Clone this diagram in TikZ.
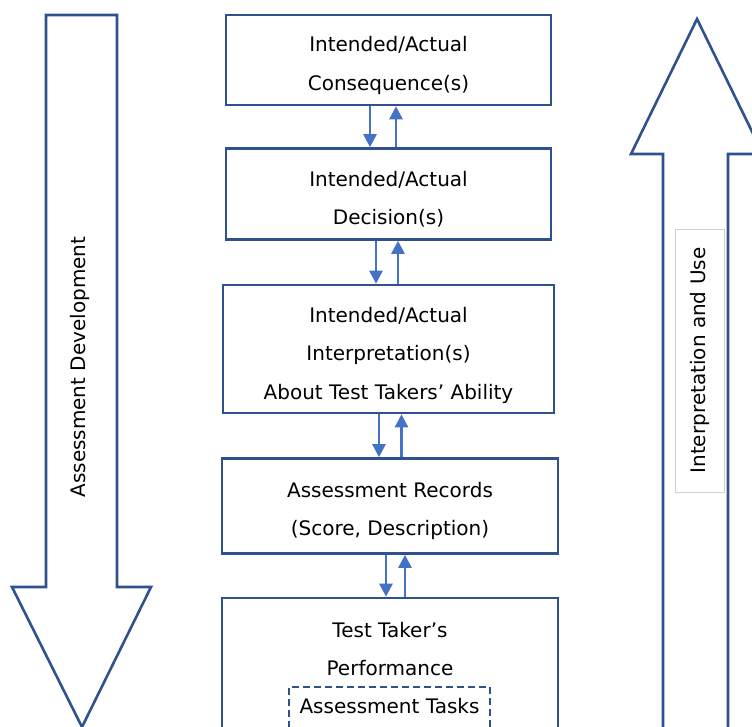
\documentclass[tikz,border=0pt]{standalone}
\usepackage{fontspec}
\setmainfont{DejaVu Sans}
\usetikzlibrary{arrows.meta}
\definecolor{boxblue}{HTML}{2F528F}
\definecolor{arrblue}{HTML}{4472C4}
\definecolor{lightgray}{HTML}{D0D0D0}
\begin{document}
\begin{tikzpicture}[x=1pt,y=-1pt,
  txt/.style={font=\fontsize{20}{38.5}\selectfont, align=center, inner sep=0pt},
  stage/.style={draw=boxblue, line width=2.6pt, fill=white},
  bigarrow/.style={draw=boxblue, line width=2.6pt, fill=white, line join=miter},
  link/.style={draw=arrblue, line width=2.6pt, -{Triangle[width=13pt,length=13pt]}}
]
\useasboundingbox (0,0) rectangle (752,726);
\clip (0,0) rectangle (752,726);
\fill[white] (0,0) rectangle (752,726);

% big arrows
\draw[bigarrow] (46,15) -- (117,15) -- (117,587) -- (151,587) -- (82,727) -- (12,587) -- (46,587) -- cycle;
\node[txt, rotate=90] (dev) at (80,367) {Assessment Development};

\draw[bigarrow] (697,19) -- (763,154) -- (728,154) -- (728,760) -- (663,760) -- (663,154) -- (631,154) -- cycle;
\node[txt, rotate=90, draw=lightgray, line width=0.8pt, minimum width=263pt, minimum height=49pt] (use) at (699.5,360.5) {Interpretation and Use};

% stage boxes
\node[stage, minimum width=325pt, minimum height=90pt] (b1) at (388.5,60) {};
\node[stage, minimum width=325pt, minimum height=91pt] (b2) at (388.5,194) {};
\node[stage, minimum width=331pt, minimum height=128pt] (b3) at (388.5,349) {};
\node[stage, minimum width=336pt, minimum height=95pt] (b4) at (390,506) {};
\node[stage, minimum width=336pt, minimum height=160pt] (b5) at (390,678) {};

\node[txt] (t1) at (388.5,65.5) {Intended/Actual\\Consequence(s)};
\node[txt] (t2) at (388.5,199) {Intended/Actual\\Decision(s)};
\node[txt] (t3) at (388.5,355) {Intended/Actual\\Interpretation(s)\\About Test Takers' Ability};
\node[txt] (t4) at (390,511) {Assessment Records\\(Score, Description)};
\node[txt] (t5) at (390,649) {Test Taker's\\Performance};
\node[draw=boxblue, line width=2.6pt, dash pattern=on 7pt off 4pt, minimum width=201pt, minimum height=48pt] (tasks) at (389.5,711) {};
\node[txt] (taskstxt) at (389.5,706) {Assessment Tasks};

% link x positions
\coordinate (d1) at (370,0); \coordinate (u1) at (396,0);
\coordinate (d2) at (376,0); \coordinate (u2) at (398,0);
\coordinate (d3) at (379,0); \coordinate (u3) at (401.5,0);
\coordinate (d4) at (386,0); \coordinate (u4) at (405,0);

\draw[link] (b1.south -| d1) -- (b2.north -| d1);
\draw[link] (b2.north -| u1) -- (b1.south -| u1);
\draw[link] (b2.south -| d2) -- (b3.north -| d2);
\draw[link] (b3.north -| u2) -- (b2.south -| u2);
\draw[link] (b3.south -| d3) -- (b4.north -| d3);
\draw[link] (b4.north -| u3) -- (b3.south -| u3);
\draw[link] (b4.south -| d4) -- (b5.north -| d4);
\draw[link] (b5.north -| u4) -- (b4.south -| u4);
\end{tikzpicture}
\end{document}
